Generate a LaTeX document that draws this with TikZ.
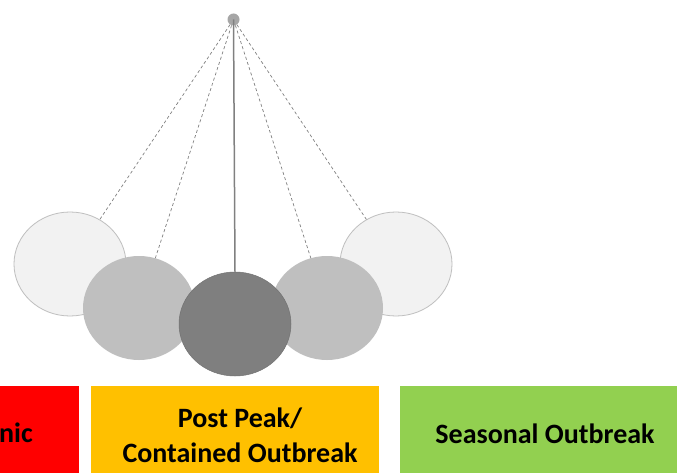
\documentclass[tikz,border=0pt]{standalone}
\usepackage{fontspec}
\setmainfont{Carlito}
\usetikzlibrary{shapes.geometric}
\definecolor{lightball}{HTML}{F2F2F2}
\definecolor{ballrim}{HTML}{BFBFBF}
\definecolor{midball}{HTML}{BFBFBF}
\definecolor{darkball}{HTML}{7F7F7F}
\definecolor{pivotgray}{HTML}{A6A6A6}
\definecolor{stringgray}{HTML}{808080}
\definecolor{boxred}{HTML}{FF0000}
\definecolor{boxyellow}{HTML}{FFC000}
\definecolor{boxgreen}{HTML}{92D050}
\tikzset{
  ball/.style={ellipse, inner sep=0pt, minimum width=112pt, minimum height=104pt},
  lightb/.style={ball, fill=lightball, draw=ballrim, line width=0.8pt},
  midb/.style={ball, fill=midball},
  darkb/.style={ball, fill=darkball, draw=darkball!90!black, line width=0.5pt},
  swing/.style={draw=stringgray, line width=0.7pt, dash pattern=on 3pt off 2.5pt},
  rod/.style={draw=stringgray, line width=1.5pt},
  phase/.style={rectangle, inner sep=0pt, anchor=north west},
  label/.style={font=\fontsize{28}{35}\selectfont\bfseries, text=black, align=center, inner sep=0pt}
}
\begin{document}
\begin{tikzpicture}[x=1pt,y=-1pt]
\clip (0,0) rectangle (677,473);
\fill[white] (0,0) rectangle (677,473);
% pivot
\node[circle, fill=pivotgray, inner sep=0pt, minimum size=12pt] (pivot) at (233.5,19.5) {};
% balls
\node[lightb] (bl1) at (70,264) {};
\node[lightb] (br1) at (396,264) {};
\node[midb] (bl2) at (139,308) {};
\node[midb] (br2) at (327,308) {};
\node[darkb] (bc) at (235,324) {};
% strings
\draw[swing] (pivot) -- (bl1);
\draw[swing] (pivot) -- (bl2);
\draw[swing] (pivot) -- (br2);
\draw[swing] (pivot) -- (br1);
\draw[rod] (pivot.center) -- (bc.north);
% phase boxes
\node[phase, fill=boxred, minimum width=179pt, minimum height=100pt] (pred) at (-100,386) {};
\node[phase, fill=boxyellow, minimum width=288pt, minimum height=100pt] (pyellow) at (91,386) {};
\node[phase, fill=boxgreen, minimum width=290pt, minimum height=100pt] (pgreen) at (400,386) {};
\node[label, anchor=base east] (tred) at (33,442) {nic};
\node[label, anchor=base] (tyellow) at (240,462) {Post Peak/\\Contained Outbreak};
\node[label, anchor=base] (tgreen) at (545,443) {Seasonal Outbreak};
\end{tikzpicture}
\end{document}
